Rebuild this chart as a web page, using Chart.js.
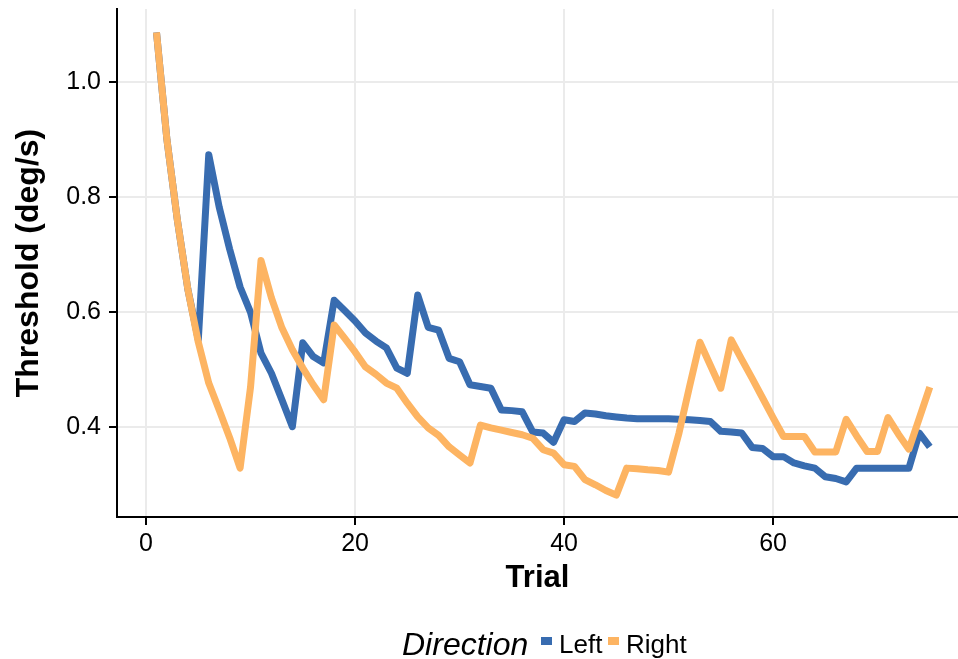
<!DOCTYPE html>
<html>
<head>
<meta charset="utf-8">
<script src="https://cdn.jsdelivr.net/npm/chart.js@4/dist/chart.umd.min.js"></script>
<style>
  body { margin: 0; background: #fff; }
  #wrap { position: relative; width: 958px; height: 659px; font-family: "Liberation Sans", Arial, sans-serif; }
  .lg { position: absolute; color: #000; white-space: nowrap; line-height: 1; }
  .key { position: absolute; width: 11px; height: 8px; }
</style>
</head>
<body>
<div id="wrap">
  <canvas id="myChart" width="958" height="659"></canvas>
  <span class="lg" style="left:402px; top:628px; font-size:32px; font-style:italic;">Direction</span>
  <span class="key" style="left:541px; top:637px; background:#386cb0;"></span>
  <span class="lg" style="left:559px; top:631px; font-size:26px;">Left</span>
  <span class="key" style="left:608px; top:637px; background:#fdb462;"></span>
  <span class="lg" style="left:626px; top:631px; font-size:26px;">Right</span>
</div>
<script>
const trials = [1, 2, 3, 4, 5, 6, 7, 8, 9, 10, 11, 12, 13, 14, 15, 16, 17, 18, 19, 20,
  21, 22, 23, 24, 25, 26, 27, 28, 29, 30, 31, 32, 33, 34, 35, 36, 37, 38, 39, 40,
  41, 42, 43, 44, 45, 46, 47, 48, 49, 50, 51, 52, 53, 54, 55, 56, 57, 58, 59, 60,
  61, 62, 63, 64, 65, 66, 67, 68, 69, 70, 71, 72, 73, 74, 75];

const left = [
  1.087, 0.90, 0.76, 0.64, 0.552,
  0.874, 0.783, 0.71, 0.644, 0.60,
  0.529, 0.494, 0.448, 0.401, 0.547,
  0.523, 0.512, 0.621, 0.603, 0.585,
  0.564, 0.55, 0.538, 0.503, 0.494,
  0.63, 0.574, 0.569, 0.52, 0.514,
  0.474, 0.471, 0.468, 0.43, 0.429,
  0.427, 0.392, 0.39, 0.374, 0.413,
  0.41, 0.425, 0.423, 0.42, 0.418,
  0.416, 0.415, 0.415, 0.415, 0.415,
  0.414, 0.413, 0.412, 0.41, 0.393,
  0.392, 0.39, 0.365, 0.363, 0.349,
  0.349, 0.338, 0.333, 0.329, 0.314,
  0.311, 0.305, 0.329, 0.329, 0.329,
  0.329, 0.329, 0.329, 0.39, 0.366
];

const right = [
  1.087, 0.90, 0.76, 0.64, 0.548,
  0.477, 0.43, 0.382, 0.329, 0.47,
  0.69, 0.625, 0.573, 0.535, 0.503,
  0.474, 0.448, 0.578, 0.555, 0.531,
  0.505, 0.492, 0.477, 0.468, 0.442,
  0.418, 0.399, 0.386, 0.366, 0.352,
  0.338, 0.404, 0.399, 0.395, 0.391,
  0.387, 0.381, 0.361, 0.355, 0.335,
  0.332, 0.309, 0.30, 0.29, 0.282,
  0.329, 0.328, 0.326, 0.325, 0.322,
  0.39, 0.47, 0.548, 0.508, 0.468,
  0.552, 0.518, 0.485, 0.451, 0.417,
  0.384, 0.384, 0.384, 0.357, 0.357,
  0.357, 0.414, 0.385, 0.358, 0.358,
  0.417, 0.388, 0.362, 0.416, 0.47
];

const xTicks = [0, 20, 40, 60];
const yTicks = [0.4, 0.6, 0.8, 1.0];

const font = { family: "'Liberation Sans', Arial, sans-serif", size: 25 };
const titleFont = { family: "'Liberation Sans', Arial, sans-serif", size: 31, weight: "bold" };

const noPad = (s) => {
  s.paddingTop = 0;
  s.paddingBottom = 0;
  s.paddingLeft = 0;
  s.paddingRight = 0;
};

const ctx = document.getElementById("myChart");
const chart = new Chart(ctx, {
  type: "line",
  data: {
    labels: trials,
    datasets: [
      {
        label: "Left",
        data: left,
        borderColor: "#386cb0",
        borderWidth: 7,
        pointRadius: 0,
        borderJoinStyle: "round",
        order: 1,
      },
      {
        label: "Right",
        data: right,
        borderColor: "#fdb462",
        borderWidth: 7,
        pointRadius: 0,
        borderJoinStyle: "round",
        order: 0,
      },
    ],
  },
  options: {
    responsive: false,
    animation: false,
    layout: { padding: { top: 9, bottom: 54, left: 0, right: 0 } },
    plugins: { legend: { display: false }, tooltip: { enabled: false } },
    scales: {
      x: {
        type: "linear",
        min: -2.78,
        max: 77.7,
        afterBuildTicks: (s) => { s.ticks = xTicks.map((v) => ({ value: v })); },
        afterFit: (s) => { s.height = 88; noPad(s); },
        grid: { color: "#ebebeb", lineWidth: 2, tickColor: "#000", tickLength: 8, tickWidth: 2 },
        border: { color: "#000", width: 2 },
        ticks: { font: font, color: "#000", padding: 4, maxRotation: 0 },
        title: { display: true, text: "Trial", font: titleFont, color: "#000", padding: { top: 0, bottom: 8 } },
      },
      y: {
        min: 0.244,
        max: 1.1275,
        afterBuildTicks: (s) => { s.ticks = yTicks.map((v) => ({ value: v })); },
        afterFit: (s) => { s.width = 117; noPad(s); },
        grid: { color: "#ebebeb", lineWidth: 2, tickColor: "#000", tickLength: 8, tickWidth: 2 },
        border: { color: "#000", width: 2 },
        ticks: { font: font, color: "#000", padding: 8, callback: (v) => v.toFixed(1) },
        title: { display: true, text: "Threshold (deg/s)", font: { ...titleFont, size: 32 }, color: "#000", padding: { top: 10, bottom: 0 } },
      },
    },
  },
});
</script>
</body>
</html>
